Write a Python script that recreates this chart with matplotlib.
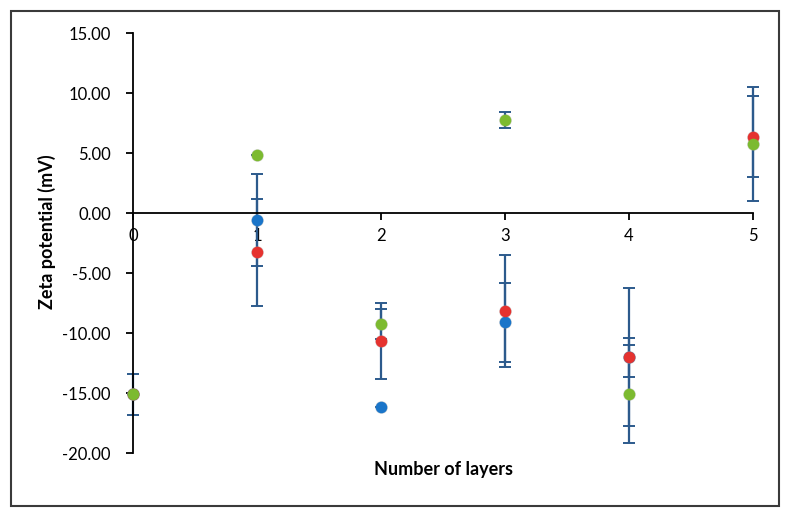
import numpy as np
import matplotlib.pyplot as plt
from matplotlib.patches import Rectangle

# Daten ------------------------------------------------------------------------
layers = [0, 1, 2, 3, 4, 5]

blue_vals = [-15.1, -0.58, -16.2, -9.1, -12.04, np.nan]
blue_err = [1.7, 3.83, 0.0, 3.3, 1.6, 0.0]

red_vals = [-15.1, -3.27, -10.64, -8.15, -12.0, 6.36]
red_err = [0.0, 4.45, 3.17, 4.65, 5.72, 3.39]

green_vals = [-15.1, 4.83, -9.25, 7.75, -15.07, 5.78]
green_err = [0.0, 0.0, 1.22, 0.67, 4.07, 4.75]

yticks = [15, 10, 5, 0, -5, -10, -15, -20]

# Plot -------------------------------------------------------------------------
plt.rcParams['font.family'] = ['Lato', 'DejaVu Sans']

fig = plt.figure(figsize=(7.89, 5.17), dpi=100)
ax = fig.add_axes([133 / 789, 1 - 453 / 517, 620 / 789, 420 / 517])

bar_col = '#2c5a8c'
series = [
    (blue_vals, blue_err, '#1a75c9'),
    (red_vals, red_err, '#e5322f'),
    (green_vals, green_err, '#7cba30'),
]

# Fehlerbalken zuerst, dann Punkte darüber
for vals, err, col in series:
    eb = ax.errorbar(layers, vals, yerr=err, fmt='none', ecolor=bar_col,
                     elinewidth=1.6, capsize=4.5, capthick=1.4, zorder=2)
    for art in eb.lines[1] + eb.lines[2]:
        art.set_clip_on(False)
for vals, err, col in series:
    ax.scatter(layers, vals, s=85, color='#999999', alpha=0.35,
               linewidths=0, zorder=3, clip_on=False)
    ax.scatter(layers, vals, s=70, color=col, linewidths=0, zorder=4,
               clip_on=False)

ax.set_xlim(0, 5)
ax.set_ylim(-20, 15)
ax.set_yticks(yticks)
ax.set_yticklabels([f'{v:.2f}' for v in yticks])
ax.set_xticks(layers)

ax.spines['left'].set_position(('data', 0))
ax.spines['bottom'].set_position(('data', 0))
ax.spines['top'].set_visible(False)
ax.spines['right'].set_visible(False)
for s in ('left', 'bottom'):
    ax.spines[s].set_linewidth(1.3)
    ax.spines[s].set_color('black')

ax.tick_params(axis='y', direction='out', length=5, width=1.3, pad=11,
               labelsize=12)
ax.tick_params(axis='x', direction='out', length=5, width=1.3, pad=6,
               labelsize=12)

fig.text(47 / 789, 1 - 232 / 517, 'Zeta potential (mV)', rotation=90,
         ha='center', va='center', fontsize=13, fontweight='bold')
fig.text(443 / 789, 1 - 470 / 517, 'Number of layers', ha='center',
         va='center', fontsize=13, fontweight='bold')

# Rahmen um die Grafik
fig.patches.append(Rectangle((11 / 789, 1 - 506 / 517), 768 / 789, 495 / 517,
                             transform=fig.transFigure, fill=False,
                             edgecolor='#3a3a3a', linewidth=1.5))

fig.savefig('out.png', dpi=100)
